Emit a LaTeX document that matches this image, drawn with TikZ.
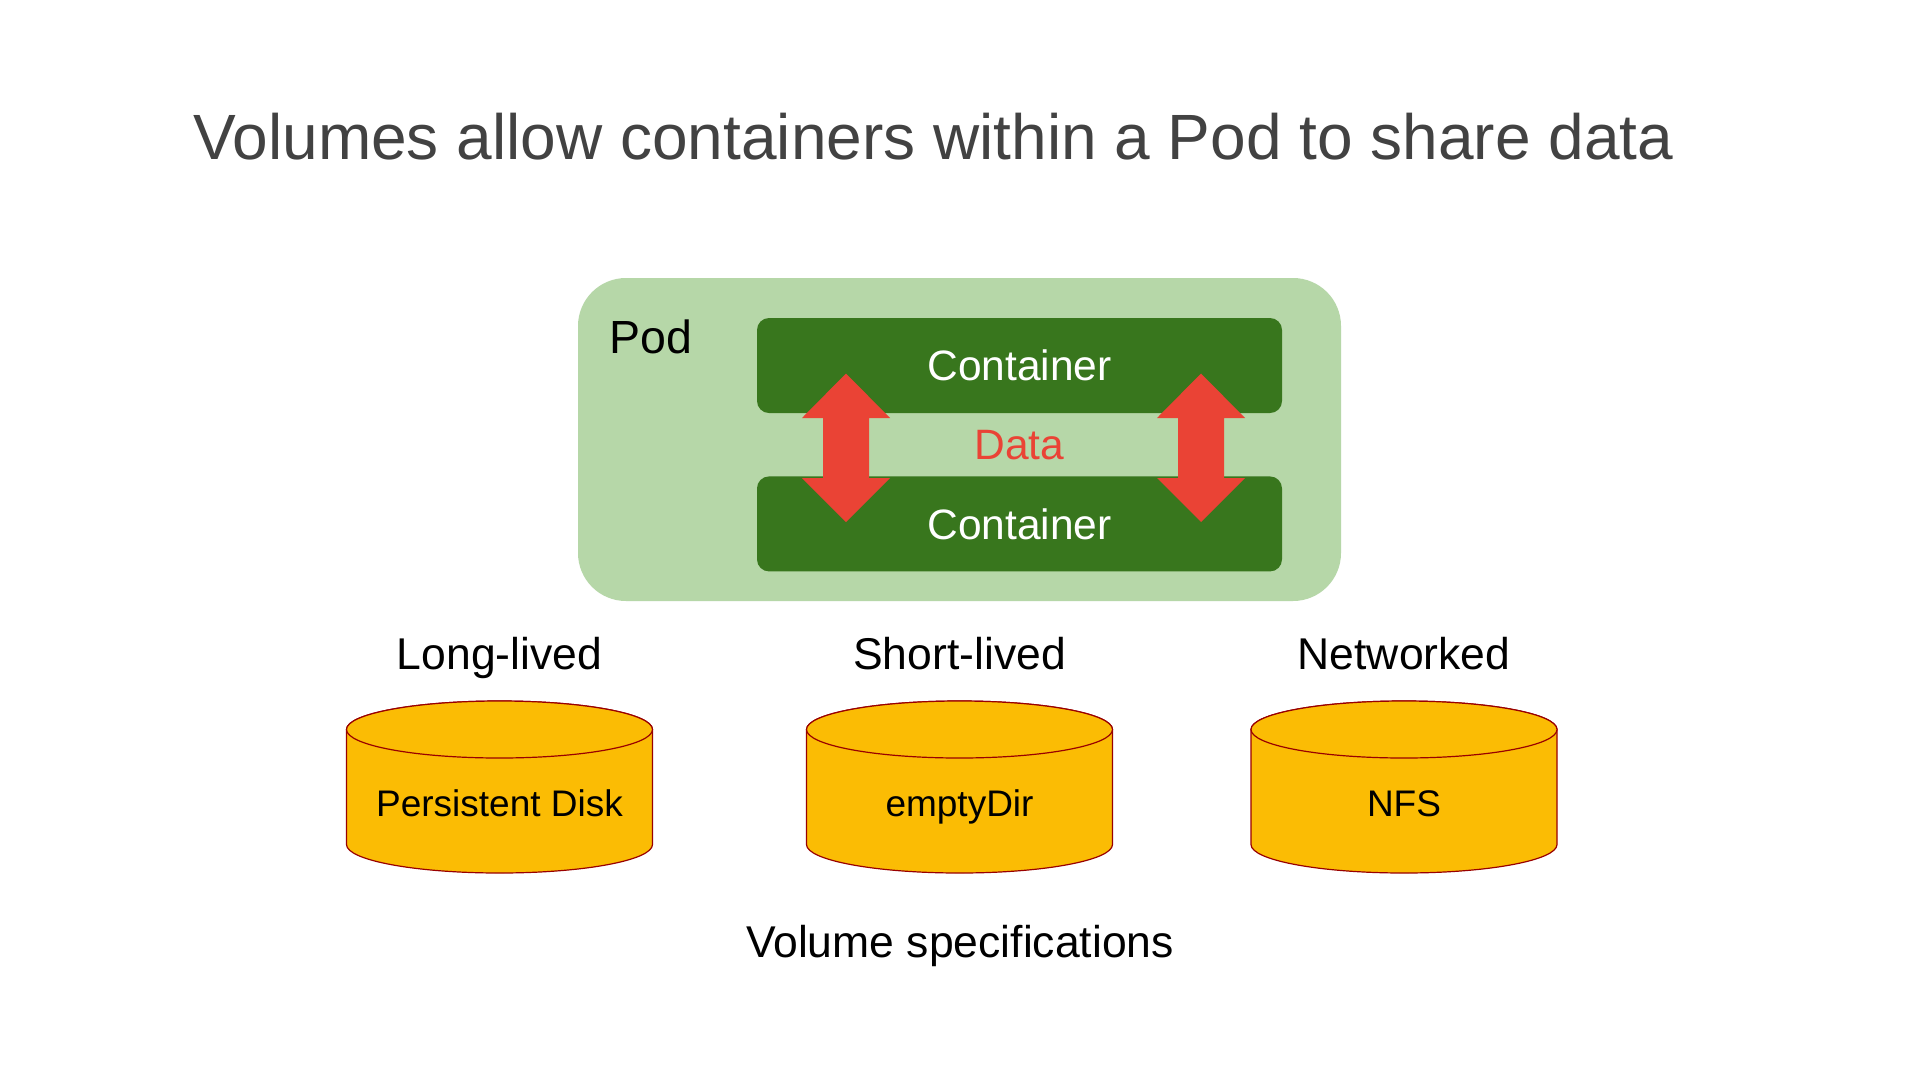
\documentclass[tikz,border=0pt]{standalone}
\usepackage{fontspec}
\setmainfont{Liberation Sans}
\usepackage{tikz}
\usetikzlibrary{positioning}
\definecolor{podgreen}{HTML}{B6D7A8}
\definecolor{boxgreen}{HTML}{38761D}
\definecolor{datared}{HTML}{EA4335}
\definecolor{diskyellow}{HTML}{FBBC04}
\definecolor{diskedge}{HTML}{990000}
\definecolor{titlegray}{HTML}{424242}
\tikzset{my_pod/.style={fill=podgreen, rounded corners=48pt, minimum width=763pt, minimum height=323pt}}
\tikzset{my_container/.style={fill=boxgreen, rounded corners=12pt, minimum width=525pt, minimum height=95pt, text=white, font=\fontsize{42.5}{50}\selectfont}}
\tikzset{my_arrow/.style={fill=datared}}
\tikzset{my_disk/.style={fill=diskyellow, draw=diskedge, line width=1.2pt}}
\tikzset{my_label/.style={inner sep=0pt, anchor=base, font=\fontsize{44.5}{52}\selectfont}}
\tikzset{my_disk_label/.style={inner sep=0pt, anchor=base, font=\fontsize{37}{44}\selectfont}}

\begin{document}
\begin{tikzpicture}[x=1pt, y=-1pt]
    \useasboundingbox[fill=white] (0,0) rectangle (1920,1080);
    %\draw[help lines, step=100] (0,0) grid (1920,1080);
    \node[inner sep=0pt, anchor=base, text=titlegray, font=\fontsize{64}{76}\selectfont] (title) at (933.5,159) {Volumes allow containers within a Pod to share data};

    \node[my_pod] (pod) at (959.5,439.5) {};
    \node[inner sep=0pt, anchor=base west, font=\fontsize{46.5}{54}\selectfont] (podlabel) at (609,353) {Pod};
    \node[my_container] (top) at (1019.5,365.5) {Container};
    \node[my_container, below=63pt of top] (bottom) {Container};
    \node[inner sep=0pt, text=datared, font=\fontsize{42.5}{50}\selectfont] (data) at (1019.5,445) {Data};

    \foreach \ax in {846,1201}
        \fill[my_arrow] (\ax,373.5) -- (\ax+44,418) -- (\ax+23,418) -- (\ax+23,478) -- (\ax+44,478)
            -- (\ax,522) -- (\ax-44,478) -- (\ax-23,478) -- (\ax-23,418) -- (\ax-44,418) -- cycle;

    \foreach \cx/\name/\kind/\disk in {499.5/long/Long-lived/Persistent Disk, 959.5/short/Short-lived/emptyDir, 1404/net/Networked/NFS} {
        \node[my_label] (\name) at (\cx,669) {\kind};
        \path[my_disk] (\cx-153,729.5) -- (\cx-153,844.5) arc[start angle=180, end angle=0, x radius=153, y radius=28.5]
            -- (\cx+153,729.5) arc[start angle=0, end angle=-180, x radius=153, y radius=28.5] -- cycle;
        \path[my_disk] (\cx,729.5) ellipse[x radius=153, y radius=28.5];
        \node[my_disk_label] (\name disk) at (\cx,816) {\disk};
    }

    \node[my_label] (spec) at (960,957) {Volume specifications};
\end{tikzpicture}
\end{document}
